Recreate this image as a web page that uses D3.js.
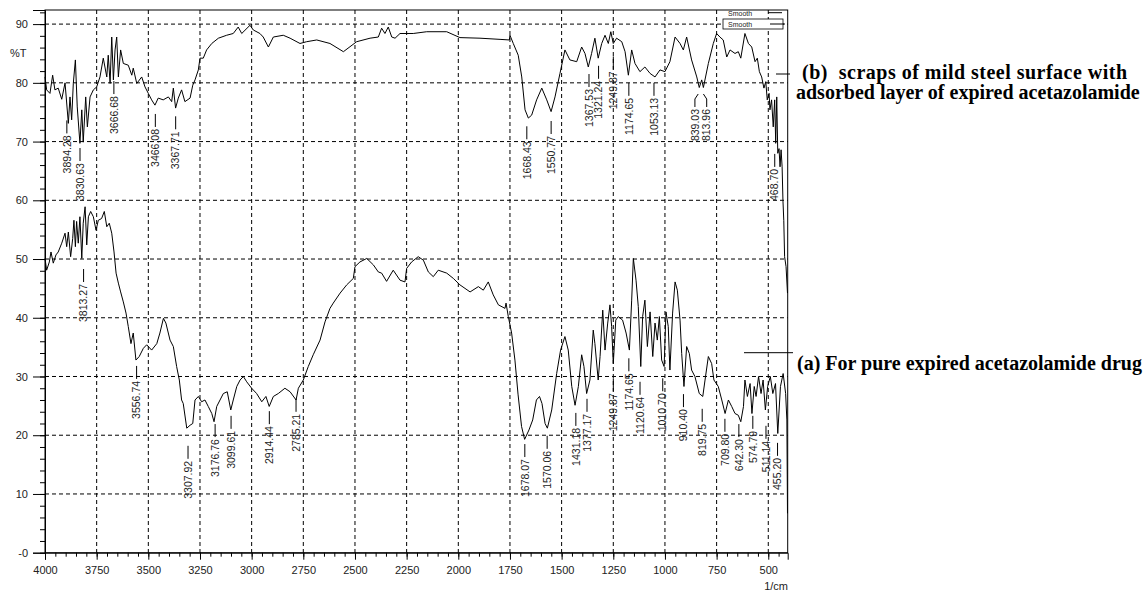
<!DOCTYPE html>
<html>
<head>
<title>FTIR - expired acetazolamide</title>
<style>
body { margin: 0; background: #fff; }
.tick text { font-family: "Liberation Sans", Arial, sans-serif; font-size: 11px; fill: #222; }
.tick line { stroke: #000; }
.domain { stroke: #000; }
.grid line { stroke: #000; stroke-dasharray: 4,3; stroke-width: 1; }
.peak { font-family: "Liberation Sans", Arial, sans-serif; font-size: 10.5px; fill: #222; }
.unit { font-family: "Liberation Sans", Arial, sans-serif; font-size: 11px; fill: #222; }
.legend { font-family: "Liberation Sans", Arial, sans-serif; font-size: 7px; fill: #222; }
.note { font-family: "Liberation Serif", "Times New Roman", serif; font-weight: bold; font-size: 20px; fill: #000; white-space: pre; }
</style>
<script src="https://d3js.org/d3.v7.min.js"></script>
</head>
<body>
<svg id="chart" width="1146" height="592"></svg>
<script>

// (b) scraps of mild steel with adsorbed layer
var wnB = [4000,3992,3976,3963,3952,3936,3919,3903,3887,3879,3871,3863,3853,3844,3831,3822,3815,3803,3795,3782,3766,3750,3734,3718,3701,3694,3685,3677,3669,3661,3653,3645,3634,3621,3597,3580,3573,3556,3532,3516,3500,3484,3468,3452,3428,3403,3387,3379,3368,3355,3339,3323,3298,3285,3274,3258,3250,3234,3218,3193,3161,3121,3089,3065,3048,3008,2992,2960,2944,2919,2895,2847,2814,2766,2734,2685,2621,2556,2492,2427,2387,2371,2355,2339,2322,2306,2282,2218,2153,2056,1992,1895,1798,1753,1750,1734,1710,1693,1677,1661,1645,1621,1596,1572,1551,1532,1508,1484,1460,1427,1403,1387,1371,1355,1339,1323,1306,1290,1274,1262,1250,1234,1209,1193,1177,1161,1145,1121,1097,1072,1048,1024,1000,976,951,927,911,895,871,846,834,822,814,790,766,750,734,718,701,685,661,645,633,613,596,580,564,553,543,532,521,512,505,496,492,484,476,469,464,459,454,448,443,438,433,429,425,421,414,407];
var tB = [81.0,78.8,78.2,81.3,78.8,79.1,77.2,80.0,73.1,77.6,73.7,79.9,83.9,75.9,69.7,75.4,69.9,77.6,72.5,77.6,78.8,79.3,81.0,84.2,81.0,84.7,79.9,87.8,80.5,85.6,87.8,81.0,85.6,83.3,83.0,81.3,82.5,79.9,81.0,79.3,78.2,77.1,76.2,77.4,77.1,77.6,76.8,79.1,75.7,77.4,78.8,76.8,77.4,79.6,80.5,82.2,84.2,84.2,85.6,86.7,87.6,88.1,88.4,89.5,88.4,89.8,89.0,88.4,87.8,86.1,87.8,88.1,87.6,86.7,87.0,87.3,86.7,85.3,87.0,87.6,87.8,89.3,88.4,89.5,87.8,87.6,88.4,88.4,88.7,88.7,87.7,87.6,87.4,87.3,88.1,86.7,84.7,81.0,75.4,74.0,74.5,77.1,79.1,77.1,75.1,77.6,81.6,85.6,83.9,83.6,86.1,85.0,82.7,85.0,87.6,84.2,86.7,88.1,86.7,88.7,86.7,87.6,87.0,85.3,81.3,85.6,83.3,81.9,82.7,81.6,81.0,82.2,81.9,83.6,87.8,86.7,85.6,87.8,83.9,81.0,79.2,80.5,79.2,83.3,86.7,88.4,87.8,87.3,84.4,85.6,85.0,85.3,84.2,88.4,86.7,86.1,83.6,84.2,81.9,81.0,79.1,80.2,77.1,78.2,75.4,77.1,72.5,77.1,69.7,77.6,68.0,68.8,65.7,68.6,65.7,60.0,56.6,50.4,48.7,44.2];

// (a) pure expired acetazolamide drug
var wnA = [4000,3992,3979,3971,3960,3947,3936,3919,3903,3895,3887,3876,3866,3860,3853,3847,3839,3831,3822,3815,3806,3798,3790,3779,3766,3753,3742,3726,3713,3701,3689,3677,3666,3656,3645,3634,3621,3608,3597,3584,3573,3560,3544,3524,3508,3484,3459,3444,3427,3415,3395,3379,3363,3350,3339,3331,3314,3298,3285,3274,3258,3242,3226,3210,3193,3182,3169,3153,3137,3118,3101,3089,3072,3056,3040,3024,3000,2976,2951,2931,2915,2895,2871,2839,2814,2785,2774,2750,2726,2702,2669,2645,2621,2605,2572,2540,2508,2500,2476,2443,2411,2387,2371,2347,2315,2282,2258,2250,2226,2194,2169,2145,2121,2097,2056,2024,1992,1943,1903,1879,1855,1831,1806,1774,1769,1758,1742,1726,1711,1694,1679,1658,1640,1622,1607,1595,1580,1569,1548,1524,1505,1484,1468,1451,1435,1419,1403,1392,1379,1363,1347,1339,1323,1314,1301,1290,1277,1266,1258,1250,1238,1226,1205,1188,1172,1161,1153,1140,1129,1117,1108,1097,1085,1072,1059,1048,1037,1027,1016,1004,995,984,976,963,951,940,927,919,908,895,882,871,855,834,817,806,790,774,763,742,725,709,693,677,661,645,633,620,613,601,588,579,568,559,547,535,525,514,503,490,478,465,454,441,428,416,410,407];
var tA = [50.1,48.1,49.5,51.2,49.3,50.7,51.2,52.7,54.4,52.1,54.6,50.4,53.5,56.6,52.1,56.4,52.7,57.2,50.1,56.1,58.9,52.4,57.2,58.1,57.2,54.9,56.6,56.9,58.1,55.5,56.1,54.4,51.2,47.6,45.9,44.4,42.7,40.8,38.5,35.6,37.4,32.8,33.4,34.8,35.4,34.5,35.6,37.4,39.9,39.1,36.2,35.1,31.7,29.4,26.0,25.4,21.2,21.7,22.0,26.0,26.6,25.7,26.0,24.9,23.7,22.3,24.9,26.0,27.1,27.4,24.3,26.0,28.3,29.4,30.0,29.1,28.0,27.1,25.7,26.6,24.9,26.6,27.1,28.0,27.4,26.0,28.0,29.4,31.7,33.7,36.2,39.3,41.6,42.5,44.2,45.6,46.7,48.7,49.5,50.1,49.0,47.8,47.6,46.2,48.1,46.4,46.1,48.4,49.5,50.4,49.8,47.8,47.0,48.1,47.6,46.7,45.6,44.4,45.3,44.7,46.1,43.9,42.2,41.6,42.5,40.2,37.4,32.8,27.0,21.5,19.3,20.9,22.6,26.0,26.6,25.4,22.0,21.2,24.3,30.5,34.5,36.8,34.5,28.3,25.1,28.3,33.7,31.7,27.1,29.4,37.9,35.6,29.4,33.4,41.3,34.5,39.1,42.2,38.5,32.2,39.6,40.2,39.6,37.4,34.5,43.0,50.1,46.4,41.9,31.7,40.2,43.0,35.1,41.0,33.4,39.1,36.2,40.2,32.8,31.7,41.0,38.5,31.1,40.8,46.1,44.7,39.6,33.9,28.3,35.1,33.9,31.1,30.0,27.1,26.6,29.4,33.4,32.2,29.4,28.3,26.0,23.7,26.0,24.9,23.7,23.4,22.3,24.9,29.4,26.6,28.8,23.7,28.3,26.6,30.0,27.1,29.4,24.3,28.3,30.0,27.1,28.8,20.3,28.3,30.5,27.1,22.6,6.7];

// peak labels: wavenumber, %T where the leader starts, and where the label sits (null = on the peak)
var peaksB = [3894.28,3830.63,3666.68,3466.08,3367.71,1668.43,1550.77,1367.53,1321.24,1249.87,1174.65,1053.13,839.03,813.96,468.70];
var peakTopB = [73.6,68.9,80.3,74.7,74.3,72.6,73.5,81.5,82.9,84.5,80.0,80.0,78.1,78.1,67.9];
var labelAtB = [null,null,null,null,null,null,null,null,null,null,null,null,855,798,null];
var peaksA = [3813.27,3556.74,3307.92,3176.76,3099.61,2914.44,2785.21,1678.07,1570.06,1431.18,1377.17,1249.87,1174.65,1120.64,1010.70,910.40,819.75,709.80,642.30,574.79,511.14,455.20];
var peakTopA = [48.3,31.8,18.2,21.9,23.3,24.1,26.2,18.5,19.9,23.8,26.2,29.7,33.1,29.1,29.7,27.0,24.5,22.8,21.9,23.3,21.6,18.7];
var labelAtA = peaksA.map(d => null);

var xMajor = [4000,3750,3500,3250,3000,2750,2500,2250,2000,1750,1500,1250,1000,750,500];
var xMinor = d3.range(4000, 449, -50);
var yMajor = [0,10,20,30,40,50,60,70,80,90];
var yMinor = d3.range(0, 93, 2);

var svg = d3.select('#chart');
var plotL = 45, plotR = 787.7, plotT = 10, plotB = 552.7;

var x = d3.scaleLinear().domain([4000, 406]).range([plotL, plotR]);
var y = d3.scaleLinear().domain([0, 92.4]).range([plotB, plotT]);

// grid
var grid = svg.append('g').attr('class', 'grid');
grid.selectAll('.gx').data(xMajor.filter(d => d != 4000)).join('line')
  .attr('x1', d => x(d)).attr('x2', d => x(d))
  .attr('y1', plotT).attr('y2', plotB);
grid.selectAll('.gy').data(yMajor.filter(d => d != 0)).join('line')
  .attr('y1', d => y(d)).attr('y2', d => y(d))
  .attr('x1', plotL).attr('x2', plotR);

// spectra
var line = d3.line().x(d => x(d[0])).y(d => y(d[1]));
svg.append('path').datum(d3.zip(wnB, tB))
  .attr('fill', 'none').attr('stroke', '#000').attr('stroke-width', 1).attr('d', line);
svg.append('path').datum(d3.zip(wnA, tA))
  .attr('fill', 'none').attr('stroke', '#000').attr('stroke-width', 1).attr('d', line);

// frame
svg.append('rect').attr('x', plotL).attr('y', plotT)
  .attr('width', plotR - plotL).attr('height', plotB - plotT)
  .attr('fill', 'none').attr('stroke', '#000');

// axes
svg.append('g').attr('transform', `translate(0,${plotB})`)
  .call(d3.axisBottom(x).tickValues(xMinor).tickSize(4).tickFormat(''))
  .call(g => g.select('.domain').remove());
svg.append('g').attr('transform', `translate(0,${plotB})`)
  .call(d3.axisBottom(x).tickValues(xMajor).tickSize(7).tickPadding(7).tickFormat(d3.format('d')));

svg.append('g').attr('transform', `translate(${plotL},0)`)
  .call(d3.axisLeft(y).tickValues(yMinor).tickSize(5).tickFormat(''))
  .call(g => g.select('.domain').remove());
svg.append('g').attr('transform', `translate(${plotL},0)`)
  .call(d3.axisLeft(y).tickValues(yMajor).tickSize(12).tickPadding(5).tickFormat(d => d == 0 ? '-0' : d));

svg.append('text').attr('class', 'unit').attr('x', 10).attr('y', 57).text('%T');
svg.append('text').attr('class', 'unit').attr('x', 788).attr('y', 590)
  .attr('text-anchor', 'end').text('1/cm');

// peak labels
function peakLabels(peaks, tops, labelAt) {
  var g = svg.append('g');
  peaks.forEach(function(p, i) {
    var px = x(p), py = y(tops[i]);
    var lx = labelAt[i] == null ? px : x(labelAt[i]);
    var path = lx == px
      ? 'M' + px + ',' + py + 'V' + (py + 13)
      : 'M' + px + ',' + py + 'L' + lx + ',' + (py + 5) + 'V' + (py + 13);
    g.append('path').attr('d', path).attr('fill', 'none').attr('stroke', '#000');
    g.append('text').attr('class', 'peak')
      .attr('transform', 'translate(' + lx + ',' + (py + 15) + ') rotate(-90)')
      .attr('text-anchor', 'end').attr('dy', '0.35em')
      .text(p.toFixed(2));
  });
}
peakLabels(peaksB, peakTopB, labelAtB);
peakLabels(peaksA, peakTopA, labelAtA);

// legend
var leg = svg.append('g');
leg.append('text').attr('class', 'legend').attr('x', 728).attr('y', 16).text('Smooth');
leg.append('line').attr('x1', 768).attr('x2', 782).attr('y1', 12.7).attr('y2', 12.7).attr('stroke', '#000');
leg.append('rect').attr('x', 723).attr('y', 19).attr('width', 60).attr('height', 10)
  .attr('fill', '#fff').attr('stroke', '#000').attr('stroke-width', 0.8);
leg.append('text').attr('class', 'legend').attr('x', 728).attr('y', 26.5).text('Smooth');
leg.append('line').attr('x1', 770).attr('x2', 785).attr('y1', 24).attr('y2', 24).attr('stroke', '#000');

// annotations
svg.append('line').attr('x1', 776).attr('x2', 790).attr('y1', 74).attr('y2', 74).attr('stroke', '#000');
svg.append('text').attr('class', 'note').attr('x', 802).attr('y', 79)
  .attr('textLength', 325).attr('lengthAdjust', 'spacing')
  .text('(b)  scraps of mild steel surface with');
svg.append('text').attr('class', 'note').attr('x', 796).attr('y', 99).text('adsorbed layer of expired acetazolamide');

svg.append('line').attr('x1', 744).attr('x2', 793).attr('y1', 352.7).attr('y2', 352.7).attr('stroke', '#000');
svg.append('text').attr('class', 'note').attr('x', 797).attr('y', 370).text('(a) For pure expired acetazolamide drug');

</script>
</body>
</html>
